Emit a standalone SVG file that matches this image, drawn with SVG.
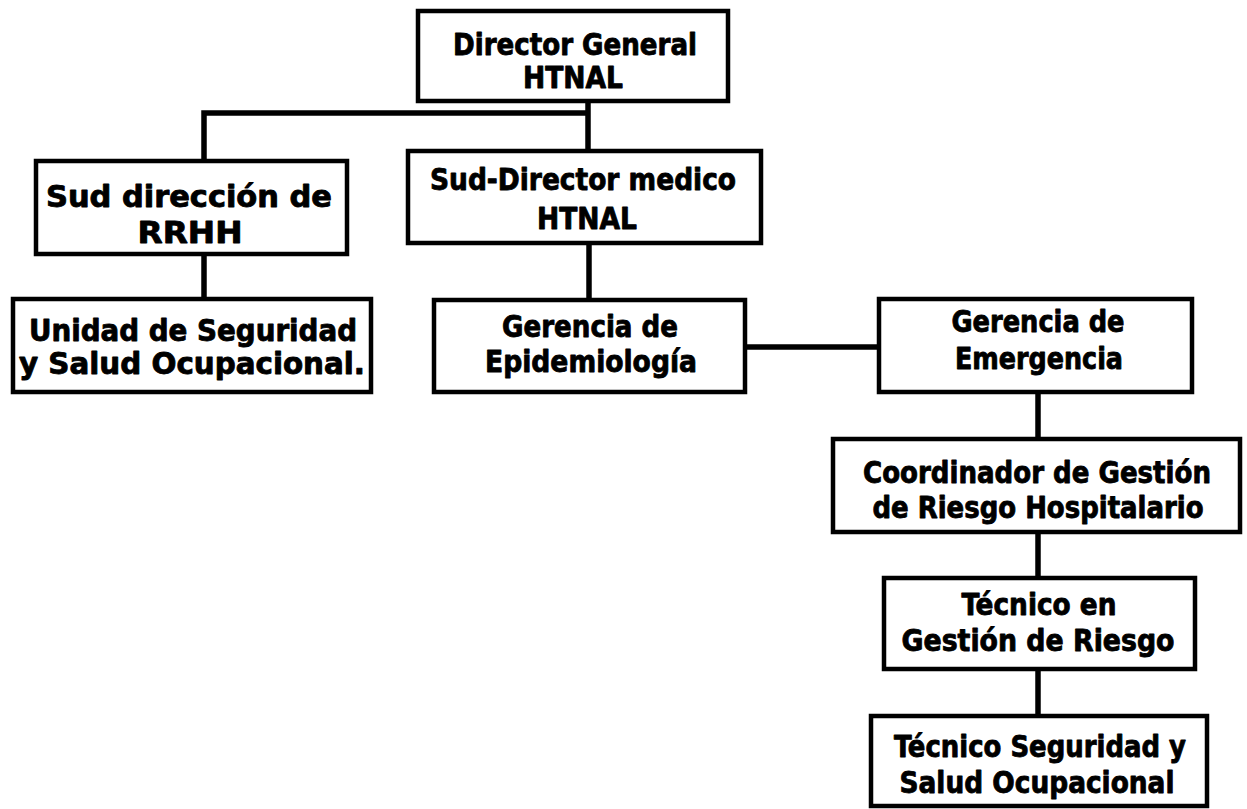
<svg xmlns="http://www.w3.org/2000/svg" width="1247" height="809" viewBox="0 0 1247 809">
<style>
.box{fill:#fff;stroke:#000;stroke-width:4.5}
.lbl{font-family:"DejaVu Sans Condensed","DejaVu Sans","Liberation Sans",sans-serif;font-weight:bold;font-size:30px;fill:#000;stroke:#000;stroke-width:0.8;stroke-linejoin:round;text-anchor:middle}
.con{stroke:#000;stroke-width:5.5;fill:none}
</style>
<rect width="1247" height="809" fill="#fff"/>
<g id="connectors">
<path class="con" d="M588 101V150"/>
<path class="con" d="M590 113H204V161"/>
<path class="con" d="M204 254V299"/>
<path class="con" d="M589 243V300"/>
<path class="con" d="M745 347H878"/>
<path class="con" d="M1038 392V439"/>
<path class="con" d="M1038 533V577"/>
<path class="con" d="M1038 669V716"/>
</g>
<g id="n-director">
<rect class="box" x="418" y="11" width="310" height="90"/>
<text class="lbl" x="575" y="55" textLength="244" lengthAdjust="spacingAndGlyphs">Director General</text>
<text class="lbl" x="573" y="88" textLength="100" lengthAdjust="spacingAndGlyphs">HTNAL</text>
</g>
<g id="n-subdir-medico">
<rect class="box" x="408" y="151" width="353" height="92"/>
<text class="lbl" x="583" y="190" textLength="306" lengthAdjust="spacingAndGlyphs">Sud-Director medico</text>
<text class="lbl" x="587" y="229" textLength="100" lengthAdjust="spacingAndGlyphs">HTNAL</text>
</g>
<g id="n-rrhh">
<rect class="box" x="36" y="161" width="311" height="93"/>
<text class="lbl" x="189" y="207" font-size="33" textLength="286" lengthAdjust="spacingAndGlyphs">Sud dirección de</text>
<text class="lbl" x="190" y="243" font-size="33" textLength="105" lengthAdjust="spacingAndGlyphs">RRHH</text>
</g>
<g id="n-unidad">
<rect class="box" x="13" y="299" width="358" height="93"/>
<text class="lbl" x="193" y="341" textLength="328" lengthAdjust="spacingAndGlyphs">Unidad de Seguridad</text>
<text class="lbl" x="192" y="374" textLength="346" lengthAdjust="spacingAndGlyphs">y Salud Ocupacional.</text>
</g>
<g id="n-epidemiologia">
<rect class="box" x="434" y="300" width="311" height="92"/>
<text class="lbl" x="590" y="337" textLength="176" lengthAdjust="spacingAndGlyphs">Gerencia de</text>
<text class="lbl" x="591" y="372" textLength="212" lengthAdjust="spacingAndGlyphs">Epidemiología</text>
</g>
<g id="n-emergencia">
<rect class="box" x="879" y="299" width="313" height="93"/>
<text class="lbl" x="1038" y="332" textLength="173" lengthAdjust="spacingAndGlyphs">Gerencia de</text>
<text class="lbl" x="1039" y="369" textLength="168" lengthAdjust="spacingAndGlyphs">Emergencia</text>
</g>
<g id="n-coordinador">
<rect class="box" x="833" y="439" width="407" height="93"/>
<text class="lbl" x="1037" y="483" textLength="348" lengthAdjust="spacingAndGlyphs">Coordinador de Gestión</text>
<text class="lbl" x="1038" y="518" textLength="331" lengthAdjust="spacingAndGlyphs">de Riesgo Hospitalario</text>
</g>
<g id="n-tecnico-riesgo">
<rect class="box" x="884" y="578" width="311" height="91"/>
<text class="lbl" x="1039" y="615" textLength="155" lengthAdjust="spacingAndGlyphs">Técnico en</text>
<text class="lbl" x="1038" y="651" textLength="273" lengthAdjust="spacingAndGlyphs">Gestión  de Riesgo</text>
</g>
<g id="n-tecnico-sso">
<rect class="box" x="871" y="716" width="336" height="90"/>
<text class="lbl" x="1040" y="757" textLength="292" lengthAdjust="spacingAndGlyphs">Técnico Seguridad y</text>
<text class="lbl" x="1037" y="793" textLength="275" lengthAdjust="spacingAndGlyphs">Salud Ocupacional</text>
</g>
</svg>
